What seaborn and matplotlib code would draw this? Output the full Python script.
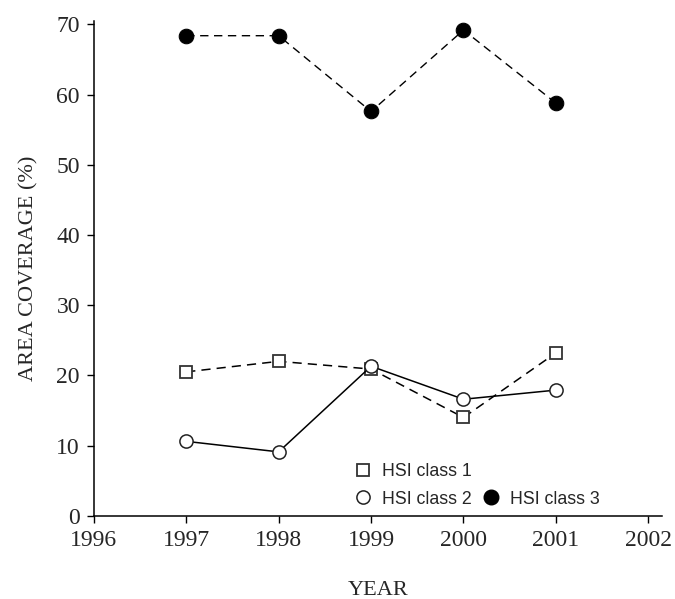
import pandas as pd
import matplotlib
matplotlib.use("Agg")
import matplotlib.pyplot as plt
import seaborn as sns
from matplotlib.lines import Line2D

# data
years = [1997, 1998, 1999, 2000, 2001]
hsi_class1 = [20.5, 22.0, 20.9, 14.0, 23.2]
hsi_class2 = [10.6, 9.1, 21.3, 16.6, 17.9]
hsi_class3 = [68.4, 68.4, 57.6, 69.2, 58.8]

sns.set_style("ticks")
plt.rcParams['font.family'] = ['Liberation Serif', 'DejaVu Serif']

fig = plt.figure(figsize=(6.75, 5.99), dpi=100)
ax = fig.add_axes([0.139, 0.139, 0.842, 0.826])

df1 = pd.DataFrame({'year': years, 'val': hsi_class1})
df2 = pd.DataFrame({'year': years, 'val': hsi_class2})
df3 = pd.DataFrame({'year': years, 'val': hsi_class3})

sns.lineplot(data=df2, x='year', y='val', ax=ax, color='black', lw=1.1,
             marker='o', markersize=9.5, markerfacecolor='white',
             markeredgecolor='#222222', markeredgewidth=1.1, zorder=3)
sns.lineplot(data=df1, x='year', y='val', ax=ax, color='black', lw=1.1,
             marker='s', markersize=9, markerfacecolor='white',
             markeredgecolor='#333333', markeredgewidth=1.3, zorder=2)
ax.lines[-1].set_dashes((6, 4))
sns.lineplot(data=df3, x='year', y='val', ax=ax, color='black', lw=1.0,
             marker='o', markersize=10.5, markerfacecolor='black',
             markeredgecolor='black', zorder=3)
ax.lines[-1].set_dashes((6, 4))

ax.set_xlim(1996, 2002.15)
ax.set_ylim(0, 70.5)
ax.set_xticks(range(1996, 2003))
ax.set_yticks(range(0, 71, 10))
ax.tick_params(direction='out', length=5, width=1, labelsize=17, color='black', pad=5)
for s in ['top', 'right']:
    ax.spines[s].set_visible(False)
for s in ['left', 'bottom']:
    ax.spines[s].set_linewidth(1.1)
    ax.spines[s].set_color('black')

ax.set_xlabel('YEAR', fontsize=16, labelpad=22)
ax.set_ylabel('AREA COVERAGE (%)', fontsize=16, labelpad=13)

h1 = Line2D([], [], ls='none', marker='s', markersize=9, markerfacecolor='white',
            markeredgecolor='#333333', markeredgewidth=1.3)
h2 = Line2D([], [], ls='none', marker='o', markersize=9.5, markerfacecolor='white',
            markeredgecolor='#222222', markeredgewidth=1.1)
h3 = Line2D([], [], ls='none', marker='o', markersize=10.5, color='black')
blank = Line2D([], [], ls='none')
ax.legend([h1, h2, blank, h3], ['HSI class 1', 'HSI class 2', '', 'HSI class 3'],
          ncol=2, frameon=False, loc='lower left', bbox_to_anchor=(0.43, -0.016),
          prop={'family': 'Liberation Sans', 'size': 12.8},
          handletextpad=0.55, columnspacing=0.6, labelspacing=0.58,
          handlelength=1.0)

fig.savefig('out.png', dpi=100)
